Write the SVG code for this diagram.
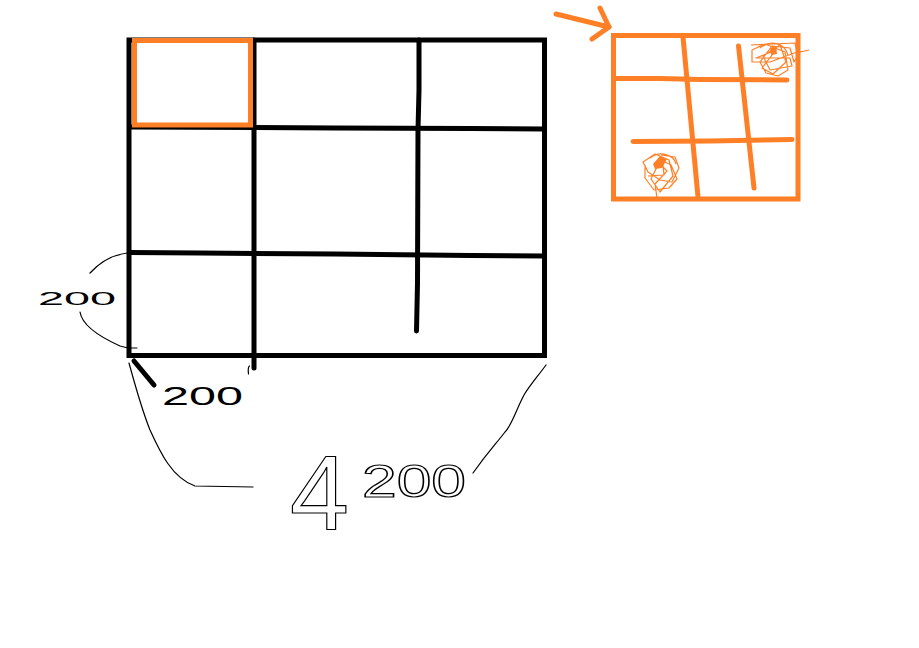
<svg xmlns="http://www.w3.org/2000/svg" width="919" height="648" viewBox="0 0 919 648">
<style>
.blk{fill:none;stroke:#000;stroke-width:5;stroke-linecap:butt;stroke-linejoin:miter}
.blkr{fill:none;stroke:#000;stroke-width:5;stroke-linecap:round}
.thin{fill:none;stroke:#000;stroke-width:1.2;stroke-linecap:round;stroke-linejoin:round}
.org{fill:none;stroke:#FF7F27;stroke-width:5;stroke-linecap:butt}
.orgr{fill:none;stroke:#FF7F27;stroke-width:5;stroke-linecap:round;stroke-linejoin:round}
.scr{fill:none;stroke:#FF7F27;stroke-width:1.2;stroke-linejoin:round}
.hand{font-family:"Liberation Sans",Arial,sans-serif;fill:#000}
.handout{font-family:"Liberation Sans",Arial,sans-serif;fill:none;stroke:#000;stroke-width:1.2}
</style>
<rect width="919" height="648" fill="#fff"/>

<g id="main-grid">
  <rect class="blk" x="129" y="40" width="415.5" height="315.5"/>
  <polyline class="blk" points="130,127 336,128 470,128.5 544,129"/>
  <polyline class="blk" points="130,252.5 200,253 335,254 470,255.5 544,256"/>
  <polyline class="blkr" points="254,40 254,368"/>
  <polyline class="blkr" points="419,40 419,90 418,130 417.5,283 416.5,331"/>
</g>

<g id="highlight-cell">
  <rect class="org" x="134.5" y="40.5" width="116" height="84.5"/>
</g>

<g id="detail-grid">
  <rect class="org" x="613.5" y="35.5" width="184.5" height="163.5" stroke-width="4.5"/>
  <line class="orgr" x1="683" y1="37" x2="698" y2="197"/>
  <line class="orgr" x1="738.5" y1="46" x2="754" y2="188"/>
  <polyline class="orgr" points="616,78.5 660,78.5 700,79.5 787,80"/>
  <polyline class="orgr" points="633,141.5 710,141 792,139.5"/>
  <path class="scr" d="M751,45 L795,43 L797,52 L770,62 L752,62 L752,50 L765,44 L785,52 L788,70 L778,76 L766,73 L760,62 L772,46 L790,48 L794,62 L800,52 L809,50 M756,58 L790,58 L792,66 L770,70 L763,56 L780,45 L786,62 L773,74 L762,68 L776,50 Z M760,48 C770,40 784,42 788,55"/>
  <path d="M770,48 L776,46 L777,54 L771,55 Z" fill="#FF7F27"/>
  <path class="scr" d="M661,155 L675,157 L679,168 L672,182 L660,180 L648,172 L643,162 L655,154 L669,160 L673,176 L660,192 L651,179 L659,163 L667,171 L655,184 L657,198 M645,165 L645,178 L654,190 L669,188 L677,179 L671,165 L659,159 M650,158 C660,150 674,155 676,164 M662,157 L664,175 L648,176"/>
  <path d="M653,164 L660,156 L667,159 L662,168 L655,169 Z" fill="#FF7F27"/>
</g>

<g id="arrow">
  <polyline class="orgr" points="556,14 609,27"/>
  <polyline class="orgr" points="600,8 609,27 592,39"/>
</g>

<g id="dim-left">
  <path class="thin" d="M127,253 C112,255 100,262 90,273"/>
  <path class="thin" d="M80,312 C82,325 100,337 120,346 L128,348 L137,348"/>
  <text class="hand" x="38" y="305" font-size="19" textLength="78" lengthAdjust="spacingAndGlyphs">200</text>
</g>

<g id="dim-bottom-small">
  <line class="blkr" x1="134" y1="361" x2="154" y2="385"/>
  <path class="thin" d="M249.5,366 C248,367 248,370 248.5,374"/>
  <text class="hand" x="162" y="405" font-size="26" textLength="81" lengthAdjust="spacingAndGlyphs">200</text>
</g>

<g id="dim-bottom-total">
  <path class="thin" d="M129,363 C135,385 142,410 150,430 C160,452 172,478 195,486 L253,487"/>
  <path class="thin" d="M546,365 C538,376 530,385 524,395 C516,410 512,425 505,432 C495,445 488,452 473,473"/>
  <text class="handout" y="530"><tspan x="290" font-size="106">4</tspan><tspan x="362" y="497" font-size="46" textLength="104" lengthAdjust="spacingAndGlyphs">200</tspan></text>
</g>
</svg>
